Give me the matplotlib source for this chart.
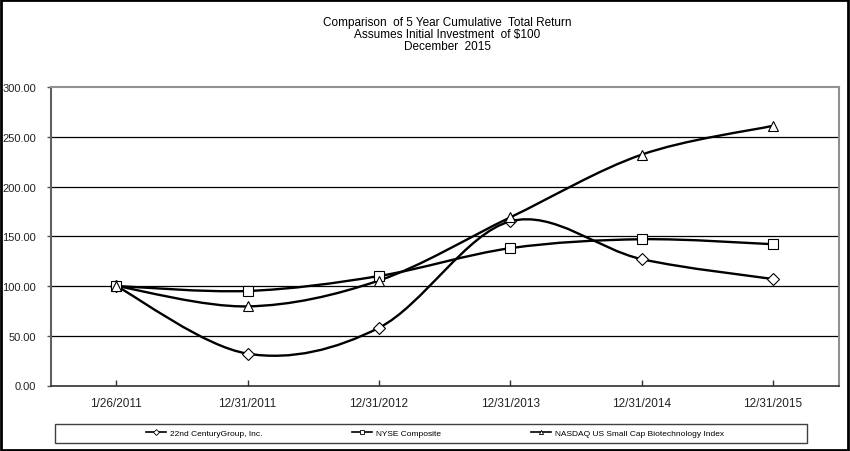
import numpy as np
import matplotlib
matplotlib.use("Agg")
import matplotlib.pyplot as plt
from matplotlib.path import Path
from matplotlib.patches import PathPatch, Rectangle
from matplotlib.lines import Line2D

plt.rcParams['font.family'] = ['Liberation Sans', 'DejaVu Sans']

# ---------------------------
# Data
# ---------------------------
dates = ["1/26/2011", "12/31/2011", "12/31/2012", "12/31/2013", "12/31/2014", "12/31/2015"]
century22 = [100.0, 32.0, 58.0, 165.0, 127.0, 107.0]
nyse = [100.0, 95.0, 110.0, 138.0, 147.0, 142.0]
nasdaq_bio = [100.0, 79.5, 105.5, 169.0, 232.0, 261.0]

series_names = ["22nd CenturyGroup, Inc.", "NYSE Composite", "NASDAQ US Small Cap Biotechnology Index"]
series_markers = ["D", "s", "^"]
y_ticks = [0, 50, 100, 150, 200, 250, 300]

title_lines = ["Comparison  of 5 Year Cumulative  Total Return",
               "Assumes Initial Investment  of $100",
               "December  2015"]


# ---------------------------
# Smoothed line (Excel style, Catmull-Rom as Bezier segments)
# ---------------------------
def smooth_path(xs, ys):
    pts = np.column_stack([xs, ys]).astype(float)
    n = len(pts)
    verts = [pts[0]]
    codes = [Path.MOVETO]
    for i in range(n - 1):
        p0 = pts[i - 1] if i > 0 else pts[i]
        p1 = pts[i]
        p2 = pts[i + 1]
        p3 = pts[i + 2] if i + 2 < n else pts[i + 1]
        c1 = p1 + (p2 - p0) / 6.0
        c2 = p2 - (p3 - p1) / 6.0
        verts += [c1, c2, p2]
        codes += [Path.CURVE4] * 3
    return Path(verts, codes)


W, H = 850, 452
fig = plt.figure(figsize=(W / 100, H / 100), dpi=100)
fig.patch.set_facecolor("white")

left, right, top, bottom = 50.6, 838.6, 88, 386.5
ax = fig.add_axes([left / W, 1 - bottom / H, (right - left) / W, (bottom - top) / H])

x = np.arange(len(dates))
all_series = [century22, nyse, nasdaq_bio]

for vals, mk in zip(all_series, series_markers):
    ax.add_patch(PathPatch(smooth_path(x, vals), facecolor="none", edgecolor="black",
                           lw=1.7, zorder=3))
    ms = 6.3 if mk == "D" else 7.2
    ax.plot(x, vals, linestyle="none", marker=mk, markersize=ms, markerfacecolor="white",
            markeredgecolor="black", markeredgewidth=0.8, zorder=4)

ax.set_xlim(-0.5, len(dates) - 0.5)
ax.set_ylim(0, 300)
ax.set_yticks(y_ticks)
ax.set_yticklabels([f"{v:.2f}" for v in y_ticks], fontsize=8, color="#222222")
ax.set_xticks(x)
ax.set_xticklabels(dates, fontsize=8.5, color="#222222")
ax.tick_params(axis="y", direction="out", length=3, width=1, color="#555555", pad=7.5)
ax.tick_params(axis="x", direction="in", length=4, width=1, color="#333333", pad=8.5)

for v in y_ticks[1:-1]:
    ax.axhline(v, color="black", lw=0.9, zorder=1)

for side in ["top", "right"]:
    ax.spines[side].set_color("#909090")
    ax.spines[side].set_linewidth(1.5)
ax.spines["left"].set_color("#606060")
ax.spines["left"].set_linewidth(1.5)
ax.spines["bottom"].set_color("#303030")
ax.spines["bottom"].set_linewidth(1.2)

# title
for i, line in enumerate(title_lines):
    fig.text(447 / W, 1 - (23 + i * 11.8) / H, line, ha="center", va="center", fontsize=8.5)

# legend box
fig.patches.append(Rectangle((55 / W, 1 - 444 / H), (807 - 55) / W, (444 - 425) / H,
                             transform=fig.transFigure, facecolor="white",
                             edgecolor="#404040", lw=1.0))
handles = [Line2D([], [], color="black", lw=1.2, marker=mk, markersize=3,
                  markerfacecolor="white", markeredgecolor="black", markeredgewidth=0.6)
           for mk in series_markers]
fig.legend(handles, series_names, loc="center", bbox_to_anchor=(435 / W, 1 - 434.5 / H),
           ncol=3, frameon=False, fontsize=6, handlelength=2.4, handletextpad=0.45,
           columnspacing=10.8, numpoints=1)

# outer border
fig.patches.append(Rectangle((0.001, 0.002), 0.997, 0.996, transform=fig.transFigure,
                             facecolor="none", edgecolor="black", lw=2.0))

fig.savefig("out.png", dpi=100)
